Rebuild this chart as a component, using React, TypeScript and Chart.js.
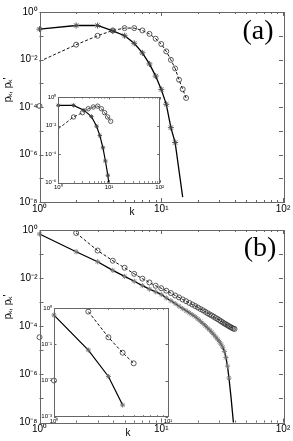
import React, { useEffect, useRef } from "react";
import { Chart, registerables } from "chart.js";
Chart.register(...registerables);

const SANS = "'Liberation Sans', Arial, Helvetica, sans-serif";
const SERIF = "'Liberation Serif', 'Times New Roman', serif";

// ---------- Panel (a), main ----------
const kStarsA = [1, 2, 3, 4, 5, 6, 7, 8, 9, 10, 11, 12, 13];
const pStarsA = [0.19, 0.27, 0.27, 0.16, 0.1, 0.048, 0.019, 0.0065, 0.002, 5.5e-4, 1.3e-4, 1.35e-5, 3.2e-6];
const kTailA = [15];
const pTailA = [1.6e-8];
const kCirclesA = [2, 3, 4, 5, 6, 7, 8, 9, 10, 11, 12, 13, 14, 15, 16];
const pCirclesA = [0.042, 0.1, 0.167, 0.21, 0.21, 0.167, 0.12, 0.075, 0.045, 0.022, 0.0097, 0.0042, 0.0014, 5.6e-4, 2.4e-4];
const kDashStartA = [1];
const pDashStartA = [0.0083];
const kLoneA = [1];
const pLoneA = [1.1e-4];

// ---------- Panel (a), inset ----------
const kStarsAi = [1, 2, 3.2, 4.5, 5.7, 6.6, 7.6, 8.5, 9.5];
const pStarsAi = [0.26, 0.26, 0.12, 0.043, 0.009, 0.002, 2.8e-4, 3.3e-5, 3.3e-6];
const kTailAi = [9.9];
const pTailAi = [1e-6];
const kCirclesAi = [2, 3, 3.9, 4.9, 6, 7.1, 8.2, 9.4, 10.8];
const pCirclesAi = [0.04, 0.08, 0.15, 0.2, 0.23, 0.15, 0.08, 0.04, 0.02];
const kDashStartAi = [1];
const pDashStartAi = [0.006];

// ---------- Panel (b), main ----------
const kStarsB = [1, 2, 3, 4, 5, 6, 7, 8, 9, 10, 11, 12, 13, 14, 15, 16, 17, 18, 19, 20, 21, 22, 23, 24, 25, 26, 27, 28, 29, 30, 31, 32, 33, 34, 35, 36];
const pStarsB = [0.68, 0.125, 0.048, 0.021, 0.0118, 0.0074, 0.0049, 0.0035, 0.0027, 0.0021, 0.0015, 0.00115, 0.00088, 0.00068, 0.00054, 0.00044, 0.00036, 0.0003, 0.00025, 0.0002, 0.00016, 0.00013, 0.000105, 0.000085, 0.00007, 0.000056, 0.000045, 0.000036, 0.000029, 0.000023, 0.000018, 0.0000135, 0.000009, 0.000005, 0.0000022, 0.0000007];
const kTailB = [37.5, 39.3];
const pTailB = [1e-7, 8e-9];
const kCirclesB = [2, 3, 4, 5, 6, 7, 8, 9, 10, 11, 12, 13, 14, 15, 16, 17, 18, 19, 20, 21, 22, 23, 24, 25, 26, 27, 28, 29, 30, 31, 32, 33, 34, 35, 36, 37, 38, 39, 40];
const pCirclesB = [0.75, 0.14, 0.053, 0.027, 0.015, 0.0095, 0.0066, 0.0048, 0.0038, 0.003, 0.0024, 0.0019, 0.00158, 0.0013, 0.0011, 0.00093, 0.0008, 0.00069, 0.0006, 0.00052, 0.00046, 0.0004, 0.00035, 0.00031, 0.00028, 0.00025, 0.00022, 0.0002, 0.00018, 0.00016, 0.000145, 0.00013, 0.00012, 0.00011, 0.0001, 0.000093, 0.000087, 0.00008, 0.000077];
const kLoneB = [1];
const pLoneB = [3.5e-5];

// ---------- Panel (b), inset ----------
const kStarsBi = [1, 2, 3, 4];
const pStarsBi = [0.65, 0.07, 0.013, 0.0021];
const kCirclesBi = [2, 3, 4, 5];
const pCirclesBi = [0.81, 0.158, 0.059, 0.03];
const kLoneBi = [1];
const pLoneBi = [0.01];

// ---------- tick values ----------
const mainXTicks = [1, 10, 100];
const mainXMinor = [2, 3, 4, 5, 6, 7, 8, 9, 20, 30, 40, 50, 60, 70, 80, 90];
const mainYLabels = [1, 1e-2, 1e-4, 1e-6, 1e-8];
const mainYTicks = [1, 1e-1, 1e-2, 1e-3, 1e-4, 1e-5, 1e-6, 1e-7, 1e-8];
const insetAYTicks = [1, 1e-2, 1e-4, 1e-6];
const insetBXTicks = [1, 10];
const insetBXMinor = [2, 3, 4, 5, 6, 7, 8, 9];
const insetBYTicks = [1, 1e-1, 1e-2, 1e-3];

const SUP: Record<string, string> = { "-": "⁻", "0": "⁰", "1": "¹", "2": "²", "3": "³", "4": "⁴", "5": "⁵", "6": "⁶", "7": "⁷", "8": "⁸", "9": "⁹" };
const pow10 = (v: number) => "10" + String(Math.round(Math.log10(v))).split("").map((c) => SUP[c]).join("");
const pts = (ks: number[], ps: number[]) => ks.map((k, i) => ({ x: k, y: ps[i] }));

const framePlugin = {
  id: "frame",
  beforeDraw(chart: any, _a: any, opts: any) {
    if (!opts.fill) return;
    const { ctx, chartArea: ca } = chart;
    ctx.save();
    ctx.fillStyle = opts.fill;
    ctx.fillRect(ca.left, ca.top, ca.right - ca.left, ca.bottom - ca.top);
    ctx.restore();
  },
  afterDraw(chart: any, _a: any, opts: any) {
    const { ctx, chartArea: ca, scales } = chart;
    ctx.save();
    ctx.strokeStyle = opts.color;
    ctx.lineWidth = 1;
    ctx.strokeRect(Math.round(ca.left) + 0.5, Math.round(ca.top) + 0.5, Math.round(ca.right - ca.left), Math.round(ca.bottom - ca.top));
    const line = (x1: number, y1: number, x2: number, y2: number) => {
      ctx.beginPath();
      ctx.moveTo(x1, y1);
      ctx.lineTo(x2, y2);
      ctx.stroke();
    };
    const xt = (vals: number[], len: number) => {
      for (const v of vals) {
        const p = Math.round(scales.x.getPixelForValue(v)) + 0.5;
        line(p, ca.bottom, p, ca.bottom - len);
        line(p, ca.top, p, ca.top + len);
      }
    };
    const yt = (vals: number[], len: number) => {
      for (const v of vals) {
        const p = Math.round(scales.y.getPixelForValue(v)) + 0.5;
        line(ca.left, p, ca.left + len, p);
        line(ca.right, p, ca.right - len, p);
      }
    };
    xt(opts.xMajor, opts.major);
    xt(opts.xMinor, opts.minor);
    yt(opts.yMajor, opts.major);
    ctx.restore();
  },
};

type PanelProps = {
  left: number; top: number; width: number; height: number;
  area: { l: number; t: number; r: number; b: number };
  xMin: number; xMax: number; yMin: number; yMax: number;
  xLabels: number[]; yLabels: number[];
  xMajor: number[]; xMinor: number[]; yMajor: number[];
  fontSize: number; tickLen: number; minorLen: number;
  fill?: string; datasets: any[]; frameColor: string;
};

function LogPanel(p: PanelProps) {
  const ref = useRef<HTMLCanvasElement | null>(null);
  useEffect(() => {
    if (!ref.current) return;
    const chart = new Chart(ref.current, {
      type: "scatter",
      data: { datasets: p.datasets },
      plugins: [framePlugin as any],
      options: {
        animation: false,
        responsive: false,
        maintainAspectRatio: false,
        devicePixelRatio: 1,
        events: [],
        layout: { padding: { left: 0, top: p.area.t, right: p.width - p.area.r, bottom: 0 } },
        plugins: {
          legend: { display: false },
          tooltip: { enabled: false },
          frame: { fill: p.fill, color: p.frameColor, xMajor: p.xMajor, xMinor: p.xMinor, yMajor: p.yMajor, major: p.tickLen, minor: p.minorLen },
        } as any,
        scales: {
          x: {
            type: "logarithmic",
            min: p.xMin,
            max: p.xMax,
            grid: { display: false, drawTicks: false, tickLength: 0 },
            border: { display: false },
            afterBuildTicks: (s: any) => { s.ticks = p.xLabels.map((v) => ({ value: v })); },
            afterFit: (s: any) => { s.height = p.height - p.area.b; },
            ticks: {
              autoSkip: false, maxRotation: 0, padding: 1,
              color: "#000",
              font: { family: SANS, size: p.fontSize },
              callback: (v: any) => pow10(Number(v)),
            },
          },
          y: {
            type: "logarithmic",
            min: p.yMin,
            max: p.yMax,
            grid: { display: false, drawTicks: false, tickLength: 0 },
            border: { display: false },
            afterBuildTicks: (s: any) => { s.ticks = p.yLabels.map((v) => ({ value: v })); },
            afterFit: (s: any) => { s.width = p.area.l; },
            ticks: {
              autoSkip: false, padding: 2,
              color: "#000",
              font: { family: SANS, size: p.fontSize },
              callback: (v: any) => pow10(Number(v)),
            },
          },
        },
      } as any,
    });
    return () => chart.destroy();
  }, []);
  return (
    <canvas
      ref={ref}
      width={p.width}
      height={p.height}
      style={{ position: "absolute", left: p.left, top: p.top, width: p.width, height: p.height }}
    />
  );
}

const starSet = (data: any[], r: number, color: string) => ({
  data, showLine: false, pointStyle: "star", pointRadius: r, borderColor: color, borderWidth: 0.9, clip: false,
});
const circleSet = (data: any[], r: number) => ({
  data, showLine: false, pointStyle: "circle", pointRadius: r, borderColor: "#333", backgroundColor: "rgba(255,255,255,0)", borderWidth: 0.8, clip: false,
});
const solidSet = (data: any[], w: number) => ({ data, showLine: true, pointRadius: 0, borderColor: "#000", borderWidth: w, tension: 0 });
const dashSet = (data: any[], w: number, dash: number[]) => ({ data, showLine: true, pointRadius: 0, borderColor: "#111", borderWidth: w, borderDash: dash, tension: 0 });

export default function App() {
  const dsA = [
    starSet(pts(kStarsA, pStarsA), 3, "#444"),
    circleSet(pts(kCirclesA, pCirclesA), 2.5),
    circleSet(pts(kLoneA, pLoneA), 2.5),
    solidSet(pts([...kStarsA, ...kTailA], [...pStarsA, ...pTailA]), 1.3),
    dashSet(pts([...kDashStartA, ...kCirclesA], [...pDashStartA, ...pCirclesA]), 1, [3, 2]),
  ];
  const dsAi = [
    starSet(pts(kStarsAi, pStarsAi), 2.2, "#444"),
    circleSet(pts(kCirclesAi, pCirclesAi), 2.2),
    solidSet(pts([...kStarsAi, ...kTailAi], [...pStarsAi, ...pTailAi]), 1.2),
    dashSet(pts([...kDashStartAi, ...kCirclesAi], [...pDashStartAi, ...pCirclesAi]), 0.9, [3, 2]),
  ];
  const dsB = [
    starSet(pts(kStarsB, pStarsB), 2.6, "#777"),
    circleSet(pts(kCirclesB, pCirclesB), 2.5),
    circleSet(pts(kLoneB, pLoneB), 2.5),
    solidSet(pts([...kStarsB, ...kTailB], [...pStarsB, ...pTailB]), 1.3),
    dashSet(pts(kCirclesB, pCirclesB), 1, [3, 2]),
  ];
  const dsBi = [
    starSet(pts(kStarsBi, pStarsBi), 2.5, "#666"),
    circleSet(pts(kCirclesBi, pCirclesBi), 2.5),
    circleSet(pts(kLoneBi, pLoneBi), 2.5),
    solidSet(pts(kStarsBi, pStarsBi), 1.2),
    dashSet(pts(kCirclesBi, pCirclesBi), 1, [3, 2]),
  ];
  const label = (text: string, x: number, y: number, font: string, size: number, rot = 0) => (
    <div
      style={{
        position: "absolute", left: x, top: y, transform: `translate(-50%, -50%) rotate(${rot}deg)`,
        fontFamily: font, fontSize: size, whiteSpace: "nowrap", lineHeight: 1, color: "#000",
      }}
    >
      {text}
    </div>
  );
  return (
    <div style={{ position: "fixed", left: 0, top: 0, width: 293, height: 441, background: "#fff", overflow: "hidden" }}>
      <LogPanel
        left={0} top={0} width={293} height={220}
        area={{ l: 39.5, t: 12, r: 283, b: 202 }}
        xMin={1} xMax={100} yMin={1e-8} yMax={1}
        xLabels={mainXTicks} yLabels={mainYLabels}
        xMajor={mainXTicks} xMinor={mainXMinor} yMajor={mainYTicks}
        fontSize={10} tickLen={4} minorLen={2} frameColor="#666"
        datasets={dsA}
      />
      <LogPanel
        left={0} top={220} width={293} height={221}
        area={{ l: 39.5, t: 10, r: 283, b: 202.5 }}
        xMin={1} xMax={100} yMin={1e-8} yMax={1}
        xLabels={mainXTicks} yLabels={mainYLabels}
        xMajor={mainXTicks} xMinor={mainXMinor} yMajor={mainYTicks}
        fontSize={10} tickLen={4} minorLen={2} frameColor="#666"
        datasets={dsB}
      />
      <LogPanel
        left={30} top={88} width={135} height={105}
        area={{ l: 28.3, t: 9, r: 130.3, b: 94.7 }}
        xMin={1} xMax={100} yMin={1e-6} yMax={1}
        xLabels={mainXTicks} yLabels={insetAYTicks}
        xMajor={mainXTicks} xMinor={mainXMinor} yMajor={insetAYTicks}
        fontSize={6} tickLen={2.5} minorLen={1.5} frameColor="#666" fill="#fff"
        datasets={dsAi}
      />
      <LogPanel
        left={30} top={300} width={145} height={128}
        area={{ l: 24, t: 8.3, r: 138, b: 116.7 }}
        xMin={1} xMax={10} yMin={1e-3} yMax={1}
        xLabels={insetBXTicks} yLabels={insetBYTicks}
        xMajor={insetBXTicks} xMinor={insetBXMinor} yMajor={insetBYTicks}
        fontSize={6} tickLen={2.5} minorLen={1.5} frameColor="#666" fill="#fff"
        datasets={dsBi}
      />
      {label("(a)", 258, 30, SERIF, 28)}
      {label("(b)", 260, 247, SERIF, 28)}
      {label("k", 132, 212, SANS, 10)}
      {label("k", 128, 433, SANS, 10)}
      {label("pₖ, pₖ'", 8, 90, SANS, 10, -90)}
      {label("pₖ, pₖ'", 8, 307, SANS, 10, -90)}
    </div>
  );
}
